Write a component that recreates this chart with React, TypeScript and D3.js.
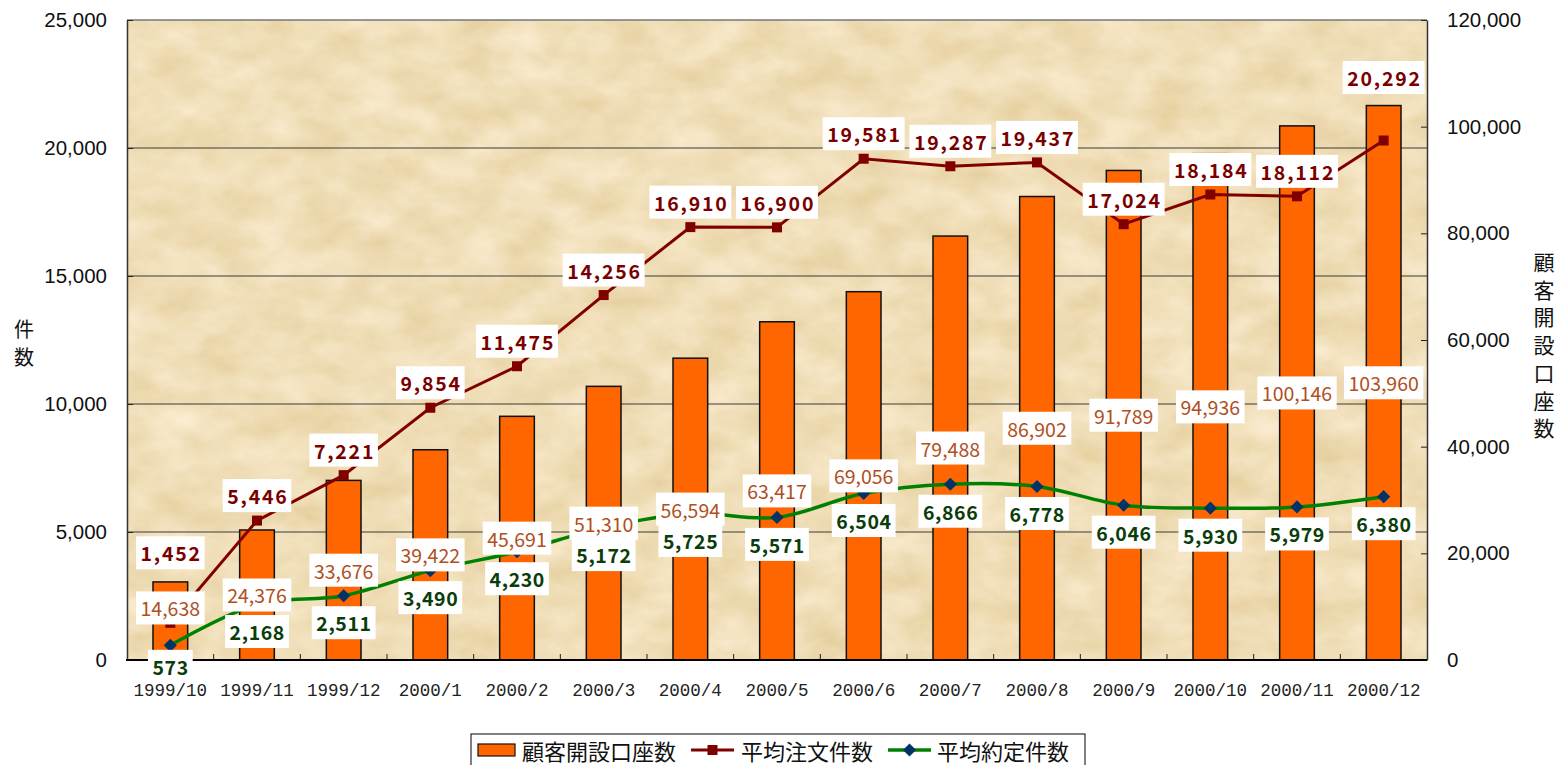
import React, { useEffect, useRef } from "react";
import * as d3 from "d3";

const months = [
  "1999/10", "1999/11", "1999/12", "2000/1", "2000/2", "2000/3", "2000/4", "2000/5",
  "2000/6", "2000/7", "2000/8", "2000/9", "2000/10", "2000/11", "2000/12",
];
// 顧客開設口座数 (right axis)
const accounts = [14638, 24376, 33676, 39422, 45691, 51310, 56594, 63417, 69056, 79488, 86902, 91789, 94936, 100146, 103960];
// 平均注文件数 (left axis)
const avgOrders = [1452, 5446, 7221, 9854, 11475, 14256, 16910, 16900, 19581, 19287, 19437, 17024, 18184, 18112, 20292];
// 平均約定件数 (left axis)
const avgExecutions = [573, 2168, 2511, 3490, 4230, 5172, 5725, 5571, 6504, 6866, 6778, 6046, 5930, 5979, 6380];

const leftTicks = [0, 5000, 10000, 15000, 20000, 25000];
const rightTicks = [0, 20000, 40000, 60000, 80000, 100000, 120000];
const seriesNames = ["顧客開設口座数", "平均注文件数", "平均約定件数"];

const W = 1558;
const H = 765;
const plot = { left: 127, right: 1427, top: 20, bottom: 660 };
const CJK = "'Noto Sans CJK JP', 'Noto Sans', sans-serif";

export default function App() {
  const ref = useRef<SVGSVGElement>(null);

  useEffect(() => {
    const svg = d3.select(ref.current);
    svg.selectAll("*").remove();

    const x = d3.scaleBand<string>().domain(months).range([plot.left, plot.right]).paddingInner(0.6).paddingOuter(0.3);
    const cx = (m: string) => (x(m) as number) + x.bandwidth() / 2;
    const yL = d3.scaleLinear().domain([0, 25000]).range([plot.bottom, plot.top]);
    const yR = d3.scaleLinear().domain([0, 120000]).range([plot.bottom, plot.top]);
    const fmt = d3.format(",");

    // paper texture
    const defs = svg.append("defs");
    const filter = defs.append("filter").attr("id", "paper")
      .attr("x", 0).attr("y", 0).attr("width", 1).attr("height", 1)
      .attr("color-interpolation-filters", "sRGB");
    filter.append("feTurbulence").attr("type", "fractalNoise")
      .attr("baseFrequency", "0.02 0.032").attr("numOctaves", 6).attr("seed", 7);
    filter.append("feColorMatrix").attr("type", "matrix")
      .attr("values", "0.1 0 0 0 0.89  0.14 0 0 0 0.8  0.24 0 0 0 0.6  0 0 0 0 1");

    svg.append("rect")
      .attr("x", plot.left).attr("y", plot.top)
      .attr("width", plot.right - plot.left).attr("height", plot.bottom - plot.top)
      .attr("filter", "url(#paper)");

    // gridlines
    svg.append("g").selectAll("line")
      .data(leftTicks.slice(1, -1))
      .join("line")
      .attr("x1", plot.left).attr("x2", plot.right)
      .attr("y1", d => yL(d)).attr("y2", d => yL(d))
      .attr("stroke", "#3a3a3a").attr("stroke-width", 1);
    svg.append("line")
      .attr("x1", plot.left).attr("x2", plot.right)
      .attr("y1", plot.top).attr("y2", plot.top)
      .attr("stroke", "#777").attr("stroke-width", 1.5);

    // bars
    svg.append("g").selectAll("rect")
      .data(accounts)
      .join("rect")
      .attr("x", (d, i) => x(months[i]) as number)
      .attr("y", d => yR(d))
      .attr("width", x.bandwidth())
      .attr("height", d => plot.bottom - yR(d))
      .attr("fill", "#FF6600")
      .attr("stroke", "#111").attr("stroke-width", 1.5);

    // axes
    const left = svg.append("g")
      .attr("transform", `translate(${plot.left},0)`)
      .call(d3.axisLeft(yL).tickValues(leftTicks).tickFormat(d => fmt(d as number)).tickSize(-6).tickSizeOuter(0).tickPadding(20));
    const right = svg.append("g")
      .attr("transform", `translate(${plot.right},0)`)
      .call(d3.axisRight(yR).tickValues(rightTicks).tickFormat(d => fmt(d as number)).tickSize(-6).tickSizeOuter(0).tickPadding(20));
    [left, right].forEach(a => {
      a.selectAll("text").attr("font-family", "'Liberation Sans', Arial, sans-serif").attr("font-size", 20.5).attr("fill", "#111");
      a.selectAll("line").attr("stroke", "#222");
      a.select(".domain").attr("stroke", "#333").attr("stroke-width", 1.5);
    });

    svg.append("g").selectAll("line")
      .data(months.slice(1))
      .join("line")
      .attr("x1", d => cx(d) - x.step() / 2).attr("x2", d => cx(d) - x.step() / 2)
      .attr("y1", plot.bottom).attr("y2", plot.bottom - 6)
      .attr("stroke", "#222");
    svg.append("line")
      .attr("x1", plot.left - 1).attr("x2", plot.right)
      .attr("y1", plot.bottom).attr("y2", plot.bottom)
      .attr("stroke", "#000").attr("stroke-width", 2);

    // lines
    const orderLine = d3.line<number>().x((d, i) => cx(months[i])).y(d => yL(d));
    const execLine = d3.line<number>().x((d, i) => cx(months[i])).y(d => yL(d)).curve(d3.curveCatmullRom.alpha(0.5));

    svg.append("path").datum(avgOrders).attr("d", orderLine)
      .attr("fill", "none").attr("stroke", "#800000").attr("stroke-width", 3);
    svg.append("g").selectAll("rect")
      .data(avgOrders)
      .join("rect")
      .attr("x", (d, i) => cx(months[i]) - 5).attr("y", d => yL(d) - 5)
      .attr("width", 10).attr("height", 10)
      .attr("fill", "#800000");

    svg.append("path").datum(avgExecutions).attr("d", execLine)
      .attr("fill", "none").attr("stroke", "#008000").attr("stroke-width", 3.5);
    const diamond = d3.symbol().type(d3.symbolDiamond2).size(110);
    svg.append("g").selectAll("path")
      .data(avgExecutions)
      .join("path")
      .attr("d", diamond)
      .attr("transform", (d, i) => `translate(${cx(months[i])},${yL(d)})`)
      .attr("fill", "#003366");

    // data labels in white boxes
    const labels = svg.append("g");
    const addLabel = (lx: number, ly: number, text: string, color: string, weight: string, spacing: number) => {
      const g = labels.append("g");
      const t = g.append("text")
        .attr("x", lx + spacing / 2).attr("y", ly)
        .attr("text-anchor", "middle").attr("dominant-baseline", "central")
        .attr("font-family", CJK).attr("font-size", 19.5)
        .attr("font-weight", weight).attr("letter-spacing", spacing)
        .attr("fill", color)
        .text(text);
      const w = (t.node() as SVGTextElement).getComputedTextLength() - spacing;
      g.insert("rect", "text")
        .attr("x", lx - w / 2 - 4.5).attr("y", ly - 16.5)
        .attr("width", w + 9).attr("height", 33)
        .attr("fill", "#fff");
    };

    const last = months.length - 1;
    accounts.forEach((v, i) => {
      const mid = (yR(v) + plot.bottom) / 2;
      addLabel(cx(months[i]), i === 0 ? mid - 13 : mid, fmt(v), "#B0501E", "normal", 0);
    });
    avgOrders.forEach((v, i) => {
      const dy = i === 0 ? -70 : i === last ? -63 : -25;
      addLabel(cx(months[i]), yL(v) + dy, fmt(v), "#7A0000", "bold", 1.8);
    });
    avgExecutions.forEach((v, i) => {
      addLabel(cx(months[i]), yL(v) + (i === 0 ? 21 : 27), fmt(v), "#0A3D0A", "bold", 0.6);
    });

    // category labels on top of the data labels
    const bottom = svg.append("g")
      .attr("transform", `translate(0,${plot.bottom})`)
      .call(d3.axisBottom(x).tickSize(0).tickPadding(24));
    bottom.select(".domain").remove();
    bottom.selectAll("text").attr("font-family", "'Liberation Mono', 'DejaVu Sans Mono', monospace")
      .attr("font-size", 17.5).attr("fill", "#222");

    // axis titles
    svg.append("text")
      .attr("x", 24).attr("y", 328)
      .attr("text-anchor", "middle").attr("dominant-baseline", "central")
      .attr("font-family", CJK).attr("font-size", 20).attr("fill", "#111")
      .selectAll("tspan").data("件数".split("")).join("tspan")
      .attr("x", 24).attr("dy", (d, i) => (i === 0 ? 0 : 28))
      .text(d => d);
    svg.append("text")
      .attr("x", 1544).attr("y", 261)
      .attr("text-anchor", "middle").attr("dominant-baseline", "central")
      .attr("font-family", CJK).attr("font-size", 21).attr("fill", "#111")
      .selectAll("tspan").data(seriesNames[0].split("")).join("tspan")
      .attr("x", 1544).attr("dy", (d, i) => (i === 0 ? 0 : 27.7))
      .text(d => d);

    // legend
    const lg = svg.append("g");
    lg.append("rect")
      .attr("x", 471).attr("y", 734).attr("width", 614).attr("height", 34)
      .attr("fill", "#fff").attr("stroke", "#000").attr("stroke-width", 1);
    const ly = 750;
    lg.append("rect").attr("x", 478).attr("y", ly - 6).attr("width", 37).attr("height", 12)
      .attr("fill", "#FF6600").attr("stroke", "#111").attr("stroke-width", 1.2);
    const legendText = (lx: number, t: string) =>
      lg.append("text").attr("x", lx).attr("y", ly)
        .attr("dominant-baseline", "central")
        .attr("font-family", CJK).attr("font-size", 22).attr("fill", "#111")
        .text(t);
    legendText(522, seriesNames[0]);
    lg.append("line").attr("x1", 691).attr("x2", 734).attr("y1", ly).attr("y2", ly)
      .attr("stroke", "#800000").attr("stroke-width", 3);
    lg.append("rect").attr("x", 707.5).attr("y", ly - 5).attr("width", 10).attr("height", 10).attr("fill", "#800000");
    legendText(741, seriesNames[1]);
    lg.append("line").attr("x1", 888).attr("x2", 931).attr("y1", ly).attr("y2", ly)
      .attr("stroke", "#008000").attr("stroke-width", 3.5);
    lg.append("path").attr("d", diamond).attr("transform", `translate(909.5,${ly})`).attr("fill", "#003366");
    legendText(937, seriesNames[2]);
  }, []);

  return (
    <svg
      ref={ref}
      width={W}
      height={H}
      style={{ position: "absolute", left: 0, top: 0, background: "#fff" }}
    />
  );
}
